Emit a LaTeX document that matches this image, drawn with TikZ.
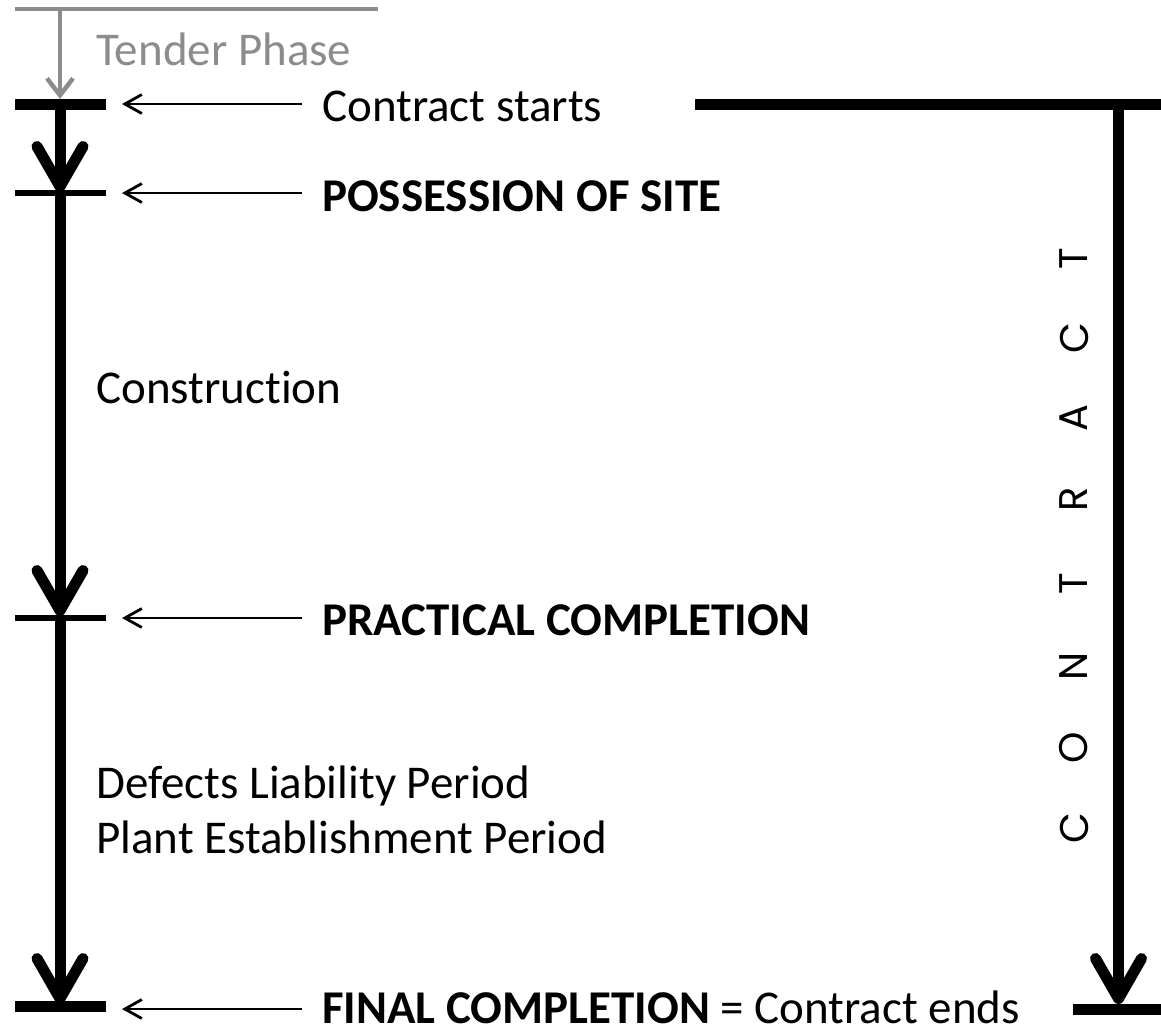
\documentclass[tikz,border=0pt]{standalone}
\usepackage{fontspec}
\setmainfont{Carlito}[Ligatures=NoCommon]
\newfontfamily\letterfont{Poppins}
\usetikzlibrary{arrows.meta}
\definecolor{tendergray}{HTML}{8C8C8C}
\begin{document}
\begin{tikzpicture}[x=1pt,y=-1pt,
  txt/.style={anchor=base west, inner sep=0pt, font=\fontsize{47}{56}\selectfont},
  boldtxt/.style={txt, font=\fontsize{47}{56}\selectfont\bfseries},
  spelled/.style={inner sep=0pt, rotate=90, font=\fontsize{40}{48}\selectfont\letterfont},
  bar/.style={line width=11pt},
  tickmark/.style={line width=6pt},
  flow/.style={line width=11pt, -{Straight Barb[length=40pt,width=46pt,line cap=round,line join=round]}},
  pointer/.style={line width=2.8pt, -{Straight Barb[length=17pt,width=19pt]}},
  tender/.style={tendergray, line width=4.5pt},
]
\useasboundingbox (0,0) rectangle (1161,1029);

% tender phase bracket
\coordinate (gL) at (15,9);
\coordinate (gR) at (378,9);
\coordinate (gTop) at (60,9);
\coordinate (gEnd) at (60,99);
\draw[tender] (gL) -- (gR);
\draw[tender, -{Straight Barb[length=17pt,width=26pt]}] (gTop) -- (gEnd);
\node[txt, text=tendergray] (tp) at (96,65) {Tender Phase};

% time line on the left
\coordinate (s) at (60,104);
\coordinate (p) at (60,192);
\coordinate (pc) at (60,616);
\coordinate (f) at (60,1004);
\coordinate (sL) at (15,104);  \coordinate (sR) at (106,104);
\coordinate (pL) at (15,193);  \coordinate (pR) at (106,193);
\coordinate (pcL) at (15,618); \coordinate (pcR) at (106,618);
\coordinate (fL) at (15,1006); \coordinate (fR) at (106,1006);

\draw[flow] (s) -- (p);
\draw[flow] (p) -- (pc);
\draw[flow] (pc) -- (f);
\draw[bar] (sL) -- (sR);
\draw[tickmark] (pL) -- (pR);
\draw[tickmark] (pcL) -- (pcR);
\draw[bar] (fL) -- (fR);

% milestone pointers and labels
\coordinate (a1) at (302,104);  \coordinate (b1) at (122,104);
\coordinate (a2) at (302,193);  \coordinate (b2) at (122,193);
\coordinate (a3) at (302,618);  \coordinate (b3) at (122,618);
\coordinate (a4) at (302,1009); \coordinate (b4) at (122,1009);
\draw[pointer] (a1) -- (b1);
\draw[pointer] (a2) -- (b2);
\draw[pointer] (a3) -- (b3);
\draw[pointer] (a4) -- (b4);

\node[txt] (cs) at (322,121) {Contract starts};
\node[boldtxt] (pos) at (322,211) {POSSESSION OF SITE};
\node[boldtxt] (prc) at (322,635) {PRACTICAL COMPLETION};
\node[txt] (fin) at (322,1023) {\textbf{FINAL COMPLETION} = Contract ends};

\node[txt] (con) at (96,403) {Construction};
\node[txt] (dlp) at (96,798) {Defects Liability Period};
\node[txt] (pep) at (96,853) {Plant Establishment Period};

% contract span on the right
\coordinate (cTL) at (695,104.5);
\coordinate (cTR) at (1161,104.5);
\coordinate (cTop) at (1118.5,104.5);
\coordinate (cEnd) at (1118.5,1004);
\coordinate (cBL) at (1073,1009.5);
\coordinate (cBR) at (1161,1009.5);
\draw[bar] (cTL) -- (cTR);
\draw[flow] (cTop) -- (cEnd);
\draw[bar] (cBL) -- (cBR);

\node[spelled] (l1) at (1074,828) {C};
\node[spelled] (l2) at (1074,748) {O};
\node[spelled] (l3) at (1074,666) {N};
\node[spelled] (l4) at (1074,584) {T};
\node[spelled] (l5) at (1074,499) {R};
\node[spelled] (l6) at (1074,418) {A};
\node[spelled] (l7) at (1074,338) {C};
\node[spelled] (l8) at (1074,259) {T};
\end{tikzpicture}
\end{document}
